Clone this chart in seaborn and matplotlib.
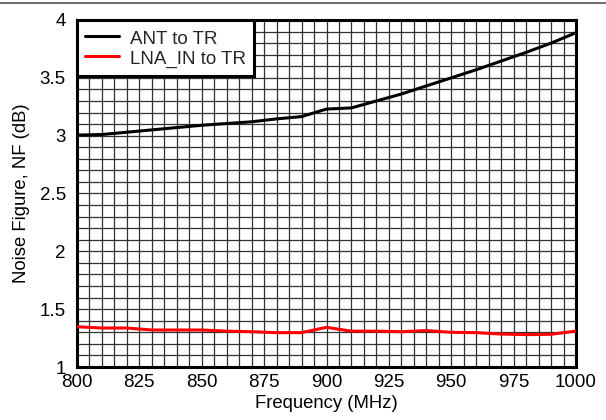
import numpy as np
import pandas as pd
import matplotlib
matplotlib.use("Agg")
import matplotlib.pyplot as plt
from matplotlib.lines import Line2D
import seaborn as sns

# Noise figure vs frequency, 10 MHz steps
freq_mhz = [800, 810, 820, 830, 840, 850, 860, 870, 880, 890, 900,
            910, 920, 930, 940, 950, 960, 970, 980, 990, 1000]
nf_ant_to_tr = [3.005, 3.01, 3.03, 3.05, 3.07, 3.09, 3.105, 3.12, 3.145, 3.165, 3.23,
                3.24, 3.30, 3.36, 3.43, 3.50, 3.57, 3.645, 3.72, 3.80, 3.89]
nf_lna_in_to_tr = [1.348, 1.337, 1.337, 1.32, 1.32, 1.32, 1.31, 1.305, 1.297, 1.297, 1.343,
                   1.31, 1.31, 1.305, 1.315, 1.30, 1.297, 1.285, 1.28, 1.283, 1.31]
series_names = ["ANT to TR", "LNA_IN to TR"]
x_ticks = [800, 825, 850, 875, 900, 925, 950, 975, 1000]
y_ticks = [1, 1.5, 2, 2.5, 3, 3.5, 4]
y_tick_labels = ["1", "1.5", "2", "2.5", "3", "3.5", "4"]

df = pd.DataFrame({
    "freq": freq_mhz * 2,
    "nf": nf_ant_to_tr + nf_lna_in_to_tr,
    "series": [series_names[0]] * len(freq_mhz) + [series_names[1]] * len(freq_mhz),
})

sns.set_theme(style="white")
plt.rcParams["font.family"] = ["Liberation Sans", "DejaVu Sans"]

fig = plt.figure(figsize=(6.06, 4.20), dpi=100)
ax = fig.add_axes([77 / 606, 1 - 367 / 420, (576 - 77) / 606, (367 - 20) / 420])

# dense engineering grid: 5 MHz by 0.1 dB
for xv in np.arange(805, 1000, 5):
    ax.axvline(xv, color="#303030", lw=0.9, zorder=1)
for yv in np.arange(1.1, 4.0, 0.1):
    ax.axhline(yv, color="#303030", lw=0.9, zorder=1)

sns.lineplot(data=df, x="freq", y="nf", hue="series",
             palette={series_names[0]: "black", series_names[1]: "#ff0000"},
             linewidth=2.2, ax=ax, zorder=3, legend=False)

ax.set_xlim(800, 1000)
ax.set_ylim(1, 4)
ax.set_xticks(x_ticks)
ax.set_xticklabels([str(t) for t in x_ticks])
ax.set_yticks(y_ticks)
ax.set_yticklabels(y_tick_labels)
ax.tick_params(axis="both", length=0, labelsize=13.5, colors="black", pad=8)
ax.tick_params(axis="x", pad=5)
ax.set_xlabel("Frequency (MHz)", fontsize=13.3, color="black", labelpad=3)
ax.set_ylabel("Noise Figure, NF (dB)", fontsize=13.3, color="black", labelpad=7)
for sp in ax.spines.values():
    sp.set_visible(True)
    sp.set_color("black")
    sp.set_linewidth(2.2)

handles = [Line2D([0], [0], color="black", lw=2.2),
           Line2D([0], [0], color="#ff0000", lw=2.2)]
leg = ax.legend(handles, series_names, loc="upper left", fontsize=13.5,
                frameon=True, fancybox=False, framealpha=1, edgecolor="black",
                borderaxespad=0, handlelength=1.8, handletextpad=0.55,
                handleheight=1.05, borderpad=0.45, labelspacing=0.05)
leg.get_frame().set_linewidth(2.2)
leg.set_zorder(5)

# thin rule along the top of the figure
fig.add_artist(Line2D([0, 1], [1 - 2.5 / 420, 1 - 2.5 / 420],
                      transform=fig.transFigure, color="#555555", lw=1.2))

fig.savefig("out.png", dpi=100)
